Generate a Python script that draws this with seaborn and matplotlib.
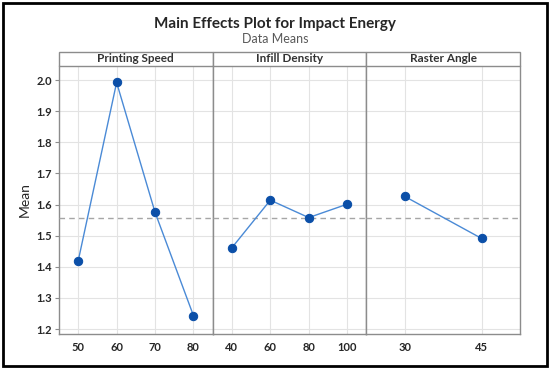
import numpy as np
import pandas as pd
import matplotlib
matplotlib.use("Agg")
import matplotlib.pyplot as plt
from matplotlib.patches import Rectangle
import seaborn as sns

# data (data means)
factors = ["Printing Speed", "Infill Density", "Raster Angle"]
speed_levels = [50, 60, 70, 80]
speed_means = [1.419, 1.992, 1.575, 1.243]
infill_levels = [40, 60, 80, 100]
infill_means = [1.461, 1.614, 1.558, 1.601]
raster_levels = [30, 45]
raster_means = [1.626, 1.491]
grand_mean = 1.558
y_ticks = [1.2, 1.3, 1.4, 1.5, 1.6, 1.7, 1.8, 1.9, 2.0]

line_col = "#4a8ad6"
mark_col = "#0b4fa8"
grid_col = "#e3e3e3"
frame_col = "#8c8c8c"
text_col = "#262626"

sns.set_style("white")
plt.rcParams["font.family"] = ["Lato", "DejaVu Sans"]

fig = plt.figure(figsize=(5.5, 3.7), dpi=100)
left, right, bottom, top = 59 / 550, 520 / 550, 1 - 334 / 370, 1 - 66 / 370
axes = fig.subplots(1, 3, sharey=True,
                    gridspec_kw={"wspace": 0, "left": left, "right": right,
                                 "bottom": bottom, "top": top})

panels = [(speed_levels, speed_means), (infill_levels, infill_means),
          (raster_levels, raster_means)]

for i, (ax, name, (lv, mn)) in enumerate(zip(axes, factors, panels)):
    df = pd.DataFrame({"level": [str(v) for v in lv], "mean": mn})
    sns.pointplot(data=df, x="level", y="mean", ax=ax, color=line_col,
                  errorbar=None, markers="o", linewidth=1.0, markersize=6)
    for ln in ax.lines:
        ln.set_markerfacecolor(mark_col)
        ln.set_markeredgecolor(mark_col)
        ln.set_zorder(4)
    ax.axhline(grand_mean, color="#a6a6a6", ls=(0, (4, 3)), lw=1.0, zorder=3)

    ax.set_xlim(-0.5, len(lv) - 0.5)
    ax.set_ylim(1.184, 2.045)
    ax.set_yticks(y_ticks)
    ax.grid(True, color=grid_col, lw=0.8, zorder=0)
    ax.set_axisbelow(True)
    ax.set_xlabel("")
    ax.set_ylabel("")
    ax.tick_params(axis="x", length=0, pad=6, labelsize=8)
    for lab in ax.get_xticklabels():
        lab.set_fontweight("bold")
        lab.set_color(text_col)

    for s in ["left", "right", "top", "bottom"]:
        ax.spines[s].set_visible(True)
        ax.spines[s].set_color(frame_col)
        ax.spines[s].set_linewidth(1.0)
    ax.spines["top"].set_visible(False)

    # strip header box
    h = 14 / 268
    ax.add_patch(Rectangle((0, 1), 1, h, transform=ax.transAxes,
                           facecolor="white", edgecolor=frame_col, lw=1.0,
                           clip_on=False))
    ax.text(0.5, 1 + h / 2, name, transform=ax.transAxes, ha="center",
            va="center", fontsize=8.5, fontweight="bold", color="#333333")

    if i > 0:
        ax.tick_params(axis="y", left=False, labelleft=False)

axes[0].tick_params(axis="y", left=True, length=3, width=0.8, color=frame_col,
                    labelsize=8, pad=2)
for lab in axes[0].get_yticklabels():
    lab.set_fontweight("bold")
    lab.set_color(text_col)
axes[0].set_ylabel("Mean", fontsize=10, color=text_col, labelpad=4)

fig.text(0.5, 1 - 24 / 370, "Main Effects Plot for Impact Energy",
         ha="center", va="center", fontsize=11, fontweight="bold",
         color=text_col)
fig.text(0.5, 1 - 39 / 370, "Data Means", ha="center", va="center",
         fontsize=9, color="#595959")

# outer black frame
fig.patches.append(Rectangle((3 / 550, 4 / 370), 544 / 550, 363 / 370,
                             transform=fig.transFigure, fill=False,
                             edgecolor="black", lw=2))

fig.savefig("out.png", dpi=100)
